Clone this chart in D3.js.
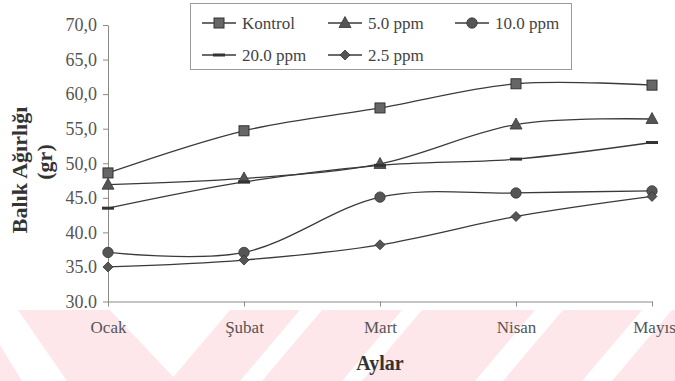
<!DOCTYPE html>
<html>
<head>
<meta charset="utf-8">
<script src="https://cdn.jsdelivr.net/npm/d3@7"></script>
<style>
  html, body { margin: 0; padding: 0; background: #fff; }
  svg { display: block; }
</style>
</head>
<body>
<svg id="chart" width="675" height="381"></svg>
<script>
// ---- data ----
const months = ["Ocak", "Şubat", "Mart", "Nisan", "Mayıs"];
const seriesNames = ["Kontrol", "5.0 ppm", "10.0 ppm", "20.0 ppm", "2.5 ppm"];
const kontrol  = [48.6, 54.7, 58.0, 61.5, 61.3];
const ppm5     = [46.9, 47.8, 49.9, 55.6, 56.4];
const ppm10    = [37.1, 37.1, 45.1, 45.7, 46.0];
const ppm20    = [43.5, 47.3, 49.7, 50.6, 53.0];
const ppm25    = [35.0, 36.0, 38.2, 42.3, 45.2];
const yTickValues = [30, 35, 40, 45, 50, 55, 60, 65, 70];
const yTickLabels = ["30.0", "35.0", "40.0", "45.0", "50,0", "55,0", "60,0", "65,0", "70,0"];
const markers = ["square", "triangle", "circle", "dash", "diamond"];

const FONT = "'Liberation Serif', 'Times New Roman', Times, 'DejaVu Serif', serif";
const svg = d3.select("#chart");

// ---- watermark (pink diagonal stripes at bottom) ----
const wm = svg.append("g").attr("fill", "#fde7eb");
wm.append("polygon").attr("points", "18,310 110,310 177,381 67,381");
wm.append("polygon").attr("points", "0,345 0,381 22,381");
wm.append("polygon").attr("points", "230,310 675,310 675,381 170,381");
const wmw = svg.append("g").attr("fill", "#ffffff");
[[300, 322], [402, 422], [535, 563], [642, 672]].forEach(([a, b]) => {
  wmw.append("polygon").attr("points", `${a},310 ${b},310 ${b - 60},381 ${a - 60},381`);
});

// ---- scales ----
const x = d3.scalePoint().domain(months).range([108, 652]);
const y = d3.scaleLinear().domain([30, 70]).range([301.5, 25]);

// ---- axes ----
const yAxis = d3.axisLeft(y).tickValues(yTickValues)
  .tickFormat((d, i) => yTickLabels[i]).tickSize(5).tickSizeOuter(0).tickPadding(6);
const gy = svg.append("g").attr("transform", "translate(108,0)").call(yAxis);
gy.attr("font-family", null);
gy.select(".domain").attr("stroke", "#8a8a8a");
gy.selectAll(".tick line").attr("stroke", "#8a8a8a");
gy.selectAll(".tick text").style("font-family", FONT).style("font-size", "18px").attr("fill", "#555");

const xAxis = d3.axisBottom(x).tickSize(5).tickSizeOuter(0).tickPadding(14);
const gx = svg.append("g").attr("transform", "translate(0,301.5)").call(xAxis);
gx.attr("font-family", null);
gx.select(".domain").attr("stroke", "#8a8a8a");
gx.selectAll(".tick line").attr("stroke", "#8a8a8a");
gx.selectAll(".tick text").style("font-family", FONT).style("font-size", "17px").attr("fill", "#555");
gx.selectAll(".tick").filter(d => d === "Mayıs").select("text").attr("dx", 2);

// ---- axis titles ----
function title(tx, ty, rot, str, size) {
  svg.append("text").attr("transform", `translate(${tx},${ty}) rotate(${rot})`)
    .attr("text-anchor", "middle").style("font-family", FONT).style("font-size", size + "px")
    .style("font-weight", "bold").attr("fill", "#333").text(str);
}
title(27, 170, -90, "Balık Ağırlığı", 22);
title(52, 162, -90, "(gr)", 22);
title(380, 370, 0, "Aylar", 20);

// ---- marker drawer ----
function drawMarker(g, type, cx, cy) {
  const stroke = "#333", fill = "#555";
  if (type === "square") {
    g.append("rect").attr("x", cx - 5).attr("y", cy - 5).attr("width", 10).attr("height", 10)
      .attr("fill", "#666").attr("stroke", stroke).attr("stroke-width", 1);
  } else if (type === "triangle") {
    g.append("path").attr("d", `M${cx},${cy - 6.5}L${cx + 6},${cy + 4.5}L${cx - 6},${cy + 4.5}Z`)
      .attr("fill", fill).attr("stroke", stroke).attr("stroke-width", 0.8);
  } else if (type === "circle") {
    g.append("circle").attr("cx", cx).attr("cy", cy).attr("r", 5.2)
      .attr("fill", fill).attr("stroke", stroke).attr("stroke-width", 0.8);
  } else if (type === "dash") {
    g.append("rect").attr("x", cx - 6).attr("y", cy - 1.5).attr("width", 12).attr("height", 3)
      .attr("fill", "#333");
  } else if (type === "diamond") {
    g.append("path").attr("d", `M${cx},${cy - 5}L${cx + 5},${cy}L${cx},${cy + 5}L${cx - 5},${cy}Z`)
      .attr("fill", fill).attr("stroke", stroke).attr("stroke-width", 0.8);
  }
}

// ---- series ----
const allSeries = [kontrol, ppm5, ppm10, ppm20, ppm25];
const line = d3.line()
  .x((d, i) => x(months[i]))
  .y(d => y(d))
  .curve(d3.curveCardinal.tension(0));

allSeries.forEach((vals) => {
  svg.append("path").datum(vals).attr("d", line)
    .attr("fill", "none").attr("stroke", "#3a3a3a").attr("stroke-width", 1.3);
});
allSeries.forEach((vals, si) => {
  const g = svg.append("g");
  vals.forEach((v, i) => drawMarker(g, markers[si], x(months[i]), y(v)));
});

// ---- legend ----
const lg = svg.append("g");
lg.append("rect").attr("x", 190.5).attr("y", 3.5).attr("width", 381).attr("height", 66)
  .attr("fill", "#fff").attr("stroke", "#9a9a9a").attr("stroke-width", 1);
const legendPos = [[202, 23], [328, 23], [455, 23], [202, 55], [328, 55]];
seriesNames.forEach((name, i) => {
  const [lx, ly] = legendPos[i];
  lg.append("line").attr("x1", lx).attr("x2", lx + 34).attr("y1", ly).attr("y2", ly)
    .attr("stroke", "#3a3a3a").attr("stroke-width", 1.3);
  drawMarker(lg, markers[i], lx + 17, ly);
  lg.append("text").attr("x", lx + 40).attr("y", ly + 6)
    .style("font-family", FONT).style("font-size", "17px")
    .attr("fill", "#444").text(name);
});
</script>
</body>
</html>
